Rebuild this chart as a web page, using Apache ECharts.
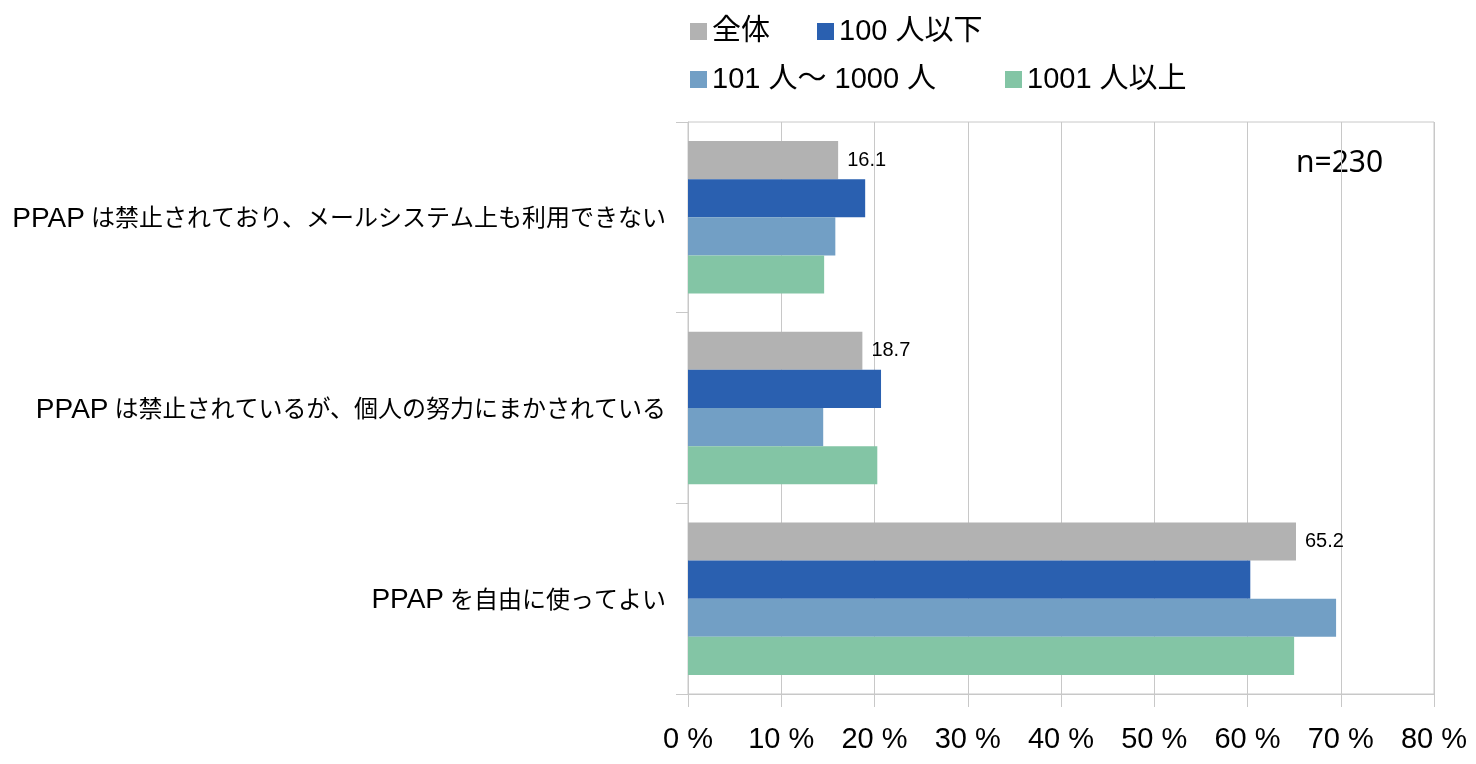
<!DOCTYPE html>
<html>
<head>
<meta charset="utf-8">
<script src="https://cdn.jsdelivr.net/npm/echarts@6/dist/echarts.min.js"></script>
<style>
  html, body { margin: 0; padding: 0; background: #fff; }
  #chart { width: 1476px; height: 764px; }
</style>
</head>
<body>
<div id="chart"></div>
<script type="text/javascript">
    // 回答項目（上から順）
    var categories = [
        'PPAP は禁止されており、メールシステム上も利用できない',
        'PPAP は禁止されているが、個人の努力にまかされている',
        'PPAP を自由に使ってよい'
    ];
    var seriesNames = ['全体', '100 人以下', '101 人〜 1000 人', '1001 人以上'];
    var allData = [16.1, 18.7, 65.2];
    var smallData = [19.0, 20.7, 60.3];
    var midData = [15.8, 14.5, 69.5];
    var largeData = [14.6, 20.3, 65.0];
    var xTicks = [0, 10, 20, 30, 40, 50, 60, 70, 80];

    var colors = ['#b2b2b2', '#2a60b0', '#729fc5', '#83c5a5'];
    var latin = '"Liberation Sans", Arial, sans-serif';
    var mixed = '"Liberation Sans", "Noto Sans CJK JP", sans-serif';
    var cjk = '"Noto Sans CJK JP", sans-serif';

    var myChart = echarts.init(document.getElementById('chart'));

    function legendAt(name, left, top) {
        return {
            data: [name],
            left: left,
            top: top,
            itemWidth: 17,
            itemHeight: 17,
            itemGap: 8,
            icon: 'rect',
            textStyle: { fontSize: 29, color: '#000', fontFamily: mixed }
        };
    }

    function barSeries(name, data, withLabel) {
        return {
            name: name,
            type: 'bar',
            data: data,
            barGap: 0,
            barCategoryGap: '20%',
            label: {
                show: withLabel,
                position: 'right',
                distance: 9,
                fontSize: 20,
                color: '#000',
                fontFamily: latin,
                formatter: function (p) { return p.value.toFixed(1); }
            }
        };
    }

    var option = {
        color: colors,
        animation: false,
        legend: [
            legendAt(seriesNames[0], 685, 12),
            legendAt(seriesNames[1], 812, 12),
            legendAt(seriesNames[2], 685, 60),
            legendAt(seriesNames[3], 1000, 60)
        ],
        grid: {
            left: 688,
            right: 42,
            top: 122,
            bottom: 70,
            show: true,
            borderColor: '#c8c8c8',
            borderWidth: 1
        },
        xAxis: {
            type: 'value',
            min: 0,
            max: 80,
            interval: 10,
            axisLine: { show: true, lineStyle: { color: '#c8c8c8' } },
            axisTick: { show: true, length: 13, lineStyle: { color: '#c8c8c8' } },
            splitLine: { show: true, lineStyle: { color: '#c8c8c8', width: 1 } },
            axisLabel: {
                margin: 31,
                fontSize: 29,
                color: '#000',
                fontFamily: latin,
                formatter: function (v) { return xTicks.indexOf(v) >= 0 ? v + ' %' : ''; }
            }
        },
        yAxis: {
            type: 'category',
            inverse: true,
            data: categories,
            axisLine: { show: true, lineStyle: { color: '#c8c8c8' } },
            axisTick: { show: true, length: 12, lineStyle: { color: '#c8c8c8' } },
            axisLabel: {
                margin: 22,
                color: '#000',
                formatter: function (v) {
                    var i = v.indexOf(' ');
                    return '{a|' + v.slice(0, i) + '}{b|' + v.slice(i + 1) + '}';
                },
                rich: {
                    a: {
                        fontSize: 28, fontFamily: latin, color: '#000',
                        lineHeight: 32, verticalAlign: 'bottom', padding: [0, 6, 0, 0]
                    },
                    b: {
                        fontSize: 24, fontFamily: cjk, color: '#000',
                        lineHeight: 32, verticalAlign: 'bottom', padding: [0, 0, 4, 0]
                    }
                }
            }
        },
        graphic: [{
            type: 'text',
            left: 1292,
            top: 146,
            style: {
                text: 'n=230',
                fontSize: 30,
                fill: '#000',
                fontFamily: '"Liberation Sans Narrow", "Noto Sans", sans-serif',
                backgroundColor: '#fff',
                padding: [2, 4]
            }
        }],
        series: [
            barSeries(seriesNames[0], allData, true),
            barSeries(seriesNames[1], smallData, false),
            barSeries(seriesNames[2], midData, false),
            barSeries(seriesNames[3], largeData, false)
        ]
    };

    myChart.setOption(option);
</script>
</body>
</html>
